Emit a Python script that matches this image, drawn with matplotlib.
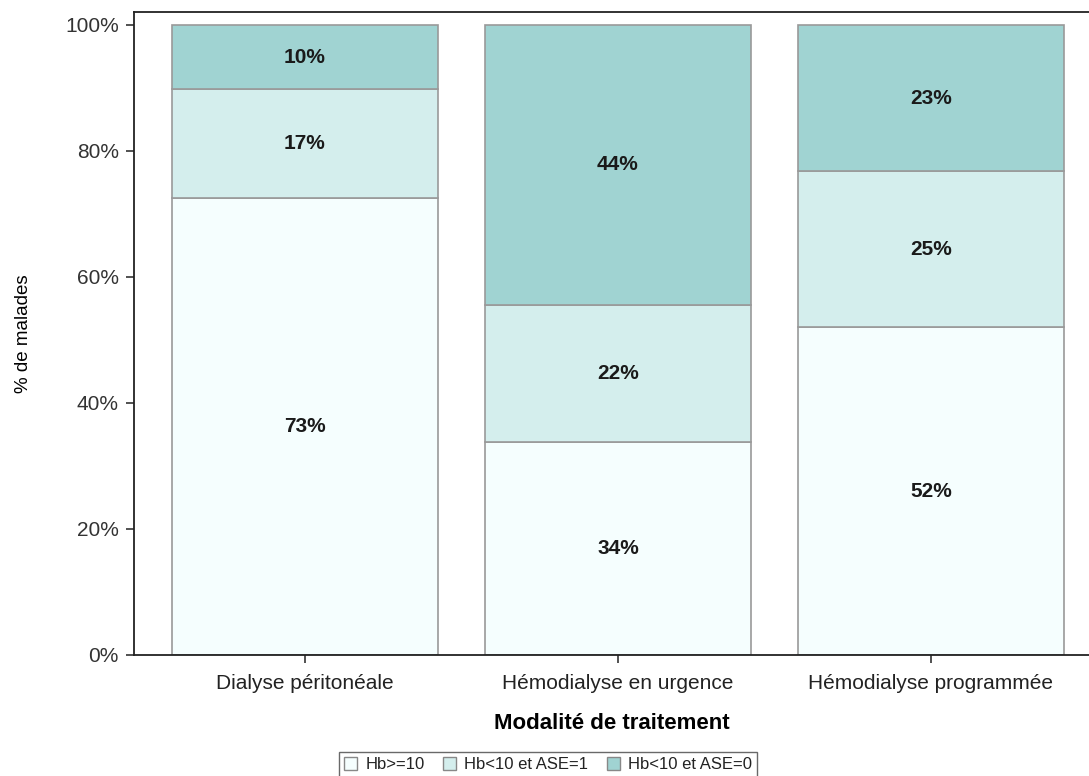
import numpy as np
import matplotlib.pyplot as plt
from matplotlib.patches import Patch

plt.rcParams['font.family'] = ['Liberation Sans', 'DejaVu Sans']

categories = ['Dialyse péritonéale', 'Hémodialyse en urgence', 'Hémodialyse programmée']
series_names = ['Hb>=10', 'Hb<10 et ASE=1', 'Hb<10 et ASE=0']
hb_ge10 = [72.6, 33.8, 52.0]
hb_lt10_ase1 = [17.2, 21.8, 24.8]
hb_lt10_ase0 = [10.2, 44.4, 23.2]
colors = ['#F5FEFE', '#D4EEED', '#A0D3D2']

fig = plt.figure(figsize=(10.89, 7.76), dpi=100)
ax = fig.add_axes([134 / 1089, 121 / 776, 955 / 1089, 643 / 776])

x = np.arange(len(categories))
bottom = np.zeros(len(categories))
for vals, name, col in zip([hb_ge10, hb_lt10_ase1, hb_lt10_ase0], series_names, colors):
    vals = np.array(vals)
    ax.bar(x, vals, width=0.85, bottom=bottom, color=col, edgecolor='#999999', linewidth=1.2, label=name)
    for xi, b, v in zip(x, bottom, vals):
        ax.text(xi, b + v / 2, '{:.0f}%'.format(v), ha='center', va='center',
                fontsize=15, fontweight='bold', color='#1a1a1a')
    bottom += vals

ax.set_xlim(-0.546, 2.505)
ax.set_ylim(0, 102.06)
ax.set_yticks([0, 20, 40, 60, 80, 100])
ax.set_yticklabels(['0%', '20%', '40%', '60%', '80%', '100%'])
ax.set_xticks(x)
ax.set_xticklabels(categories)
ax.tick_params(axis='x', length=6, width=1.2, pad=8, labelsize=15, labelcolor='#222222', color='#333333')
ax.tick_params(axis='y', length=6, width=1.2, pad=5, labelsize=15, labelcolor='#333333', color='#333333')
ax.spines['right'].set_visible(False)
for s in ['left', 'top', 'bottom']:
    ax.spines[s].set_linewidth(1.3)
    ax.spines[s].set_color('#222222')

ax.set_ylabel('% de malades', fontsize=13.5, labelpad=24)
ax.set_xlabel('Modalité de traitement', fontsize=16, fontweight='bold', labelpad=14)

handles = [Patch(facecolor=c, edgecolor='#888888', linewidth=1) for c in colors]
fig.legend(handles, series_names, loc='lower center', bbox_to_anchor=(548 / 1089, -0.012),
           ncol=3, fontsize=12, frameon=True, fancybox=False, edgecolor='#444444',
           handlelength=0.8, handleheight=0.8, handletextpad=0.5, columnspacing=1.1,
           borderpad=0.3, labelcolor='#222222')

fig.savefig('out.png', dpi=100)
